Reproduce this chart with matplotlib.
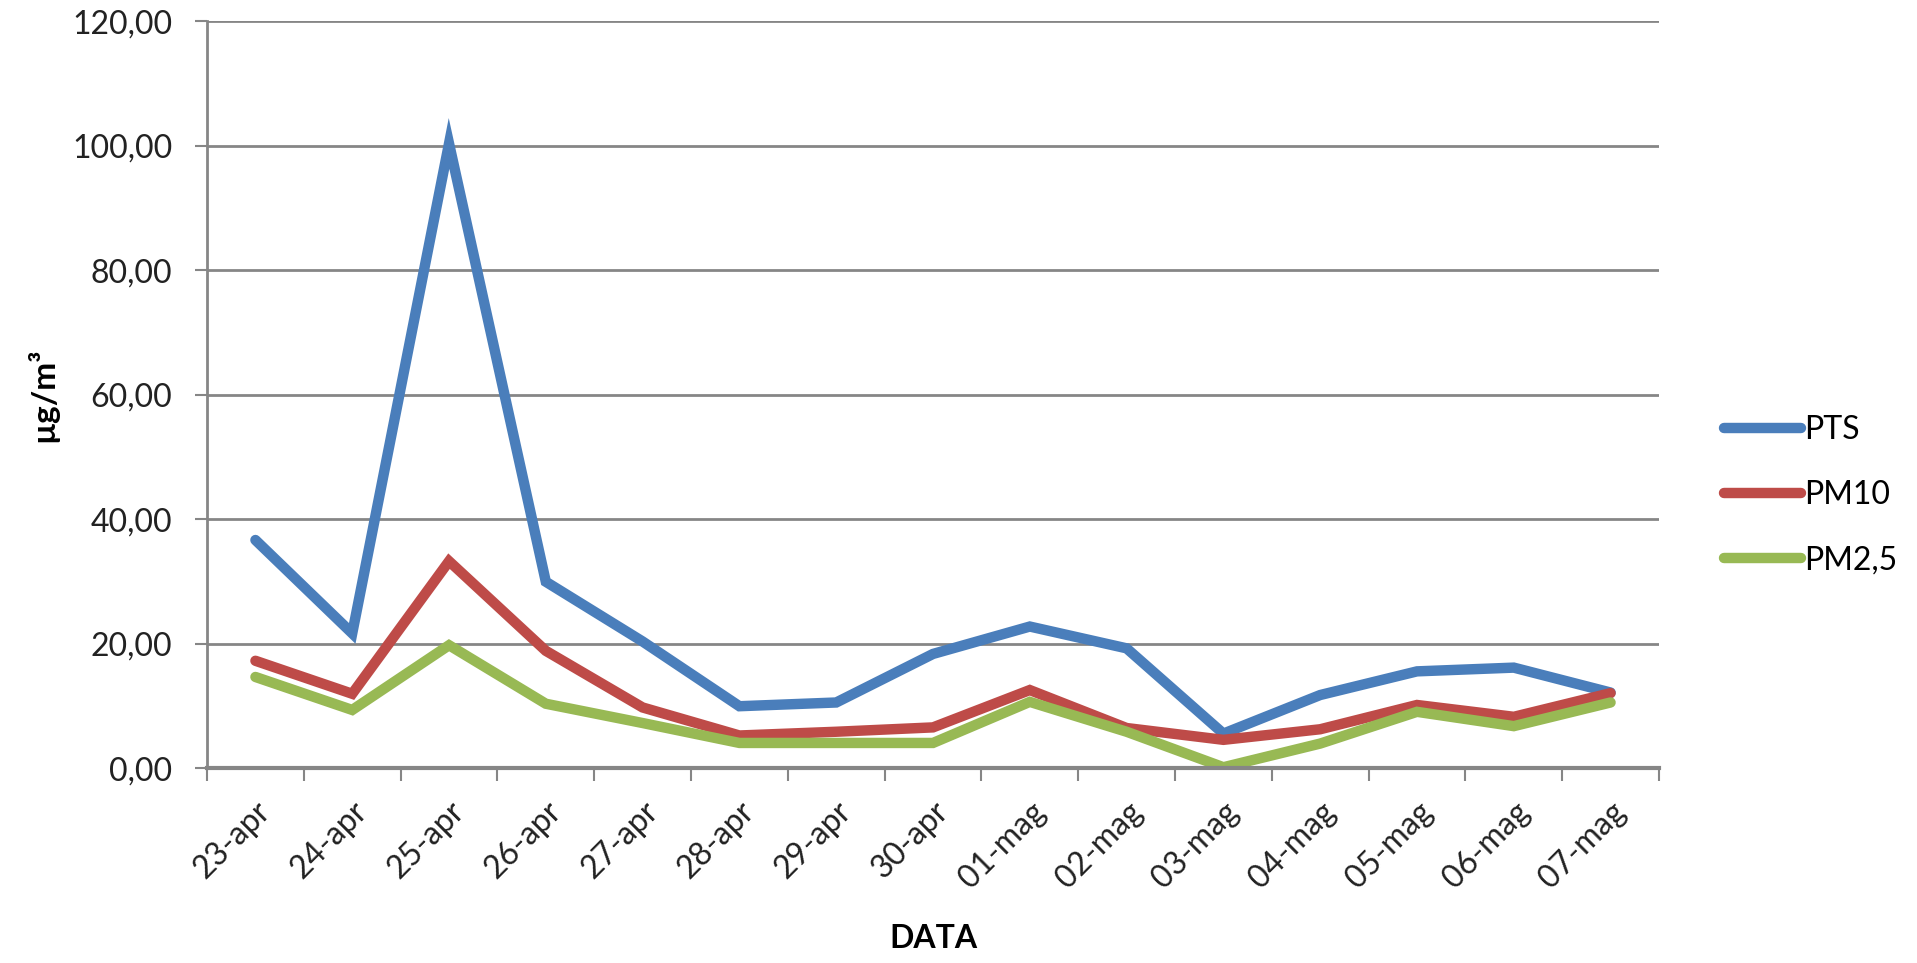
import matplotlib.pyplot as plt
import numpy as np
from matplotlib.ticker import FuncFormatter, FixedLocator

plt.rcParams["font.family"] = ["Lato", "DejaVu Sans"]

dates = ["23-apr", "24-apr", "25-apr", "26-apr", "27-apr", "28-apr", "29-apr",
         "30-apr", "01-mag", "02-mag", "03-mag", "04-mag", "05-mag", "06-mag", "07-mag"]
pts = [36.7, 21.7, 100.4, 30.0, 20.4, 10.0, 10.6, 18.4, 22.8, 19.3, 5.6, 11.8, 15.6, 16.2, 12.2]
pm10 = [17.3, 12.0, 33.3, 18.9, 9.8, 5.3, 5.9, 6.6, 12.6, 6.5, 4.6, 6.3, 10.2, 8.3, 12.1]
pm25 = [14.7, 9.4, 19.8, 10.4, 7.3, 4.1, 4.1, 4.1, 10.7, 5.9, 0.2, 4.0, 9.1, 6.8, 10.6]

series = [("PTS", pts, "#4A7EBB"), ("PM10", pm10, "#BE4B48"), ("PM2,5", pm25, "#98B954")]
grid_color = "#868686"
fs = 23

fig = plt.figure(figsize=(19.17, 9.63), dpi=100)
ax = fig.add_axes([0.108, 0.202, 0.7574, 0.7757])

x = np.arange(len(dates))
for name, vals, col in series:
    ax.plot(x, vals, color=col, lw=7.5, label=name, solid_capstyle="round", solid_joinstyle="miter")

ax.set_xlim(-0.5, len(dates) - 0.5)
ax.set_ylim(0, 120)
ax.set_yticks(np.arange(0, 121, 20))
ax.yaxis.set_major_formatter(FuncFormatter(lambda v, p: f"{v:.2f}".replace(".", ",")))
ax.yaxis.grid(True, color=grid_color, lw=2)
ax.set_axisbelow(True)

ax.set_xticks(x)
ax.set_xticklabels(dates, rotation=45, ha="right", rotation_mode="anchor")
ax.xaxis.set_minor_locator(FixedLocator(np.arange(-0.5, len(dates), 1)))
ax.tick_params(axis="x", which="major", length=0, pad=20, labelsize=fs, colors="#222222")
ax.tick_params(axis="x", which="minor", length=9, width=1.5, color=grid_color)
ax.tick_params(axis="y", length=9, width=1.5, color=grid_color, labelsize=fs,
               labelcolor="#222222", pad=16)

for s in ["top", "right"]:
    ax.spines[s].set_visible(False)
ax.spines["left"].set_color(grid_color)
ax.spines["left"].set_linewidth(2)
ax.spines["bottom"].set_color(grid_color)
ax.spines["bottom"].set_linewidth(3)

ax.set_xlabel("DATA", fontsize=fs, fontweight="bold", labelpad=22)
ax.set_ylabel("µg/m³", fontsize=24, fontweight="bold", labelpad=10)

ax.legend(loc="center left", bbox_to_anchor=(1.025, 0.366), frameon=False, fontsize=fs,
          handlelength=2.4, handletextpad=0.1, labelspacing=1.1)

fig.savefig("out.png", dpi=100)
